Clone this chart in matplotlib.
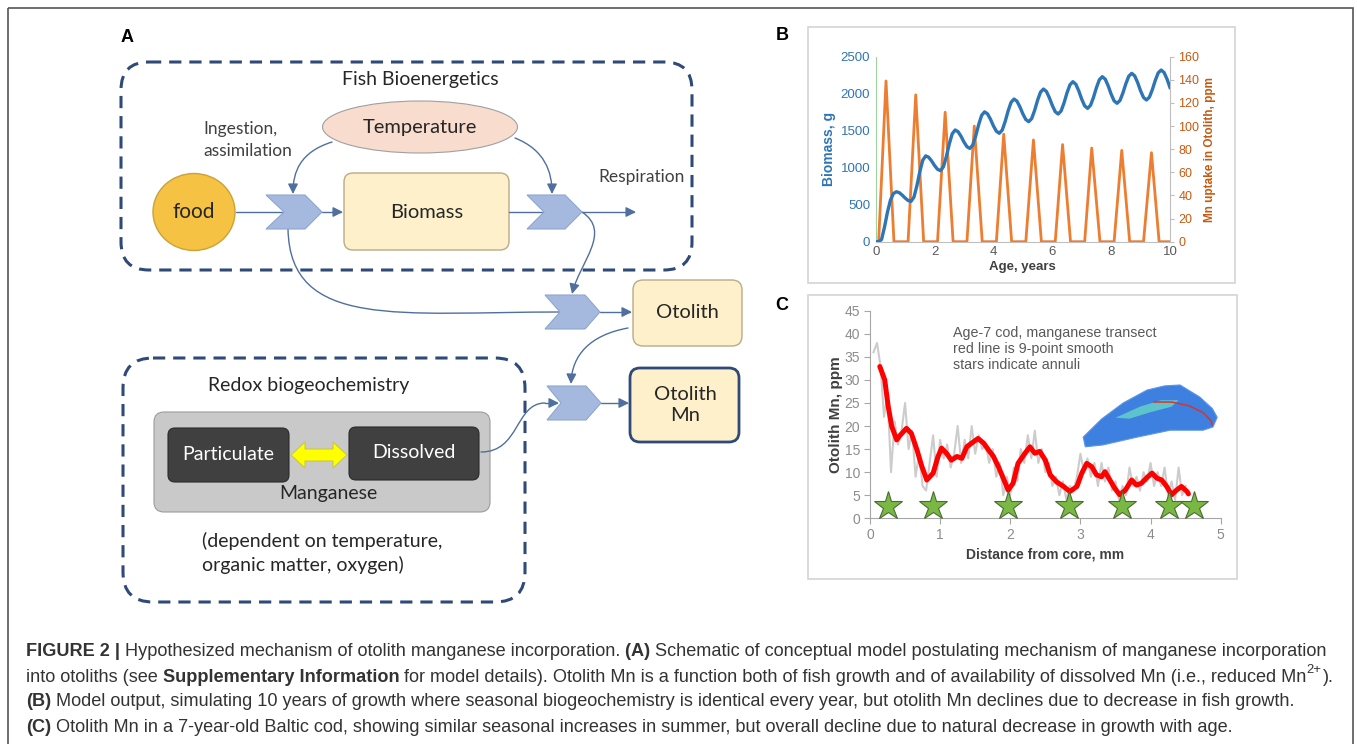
import numpy as np
import matplotlib
matplotlib.use("Agg")
import matplotlib.pyplot as plt
from matplotlib.patches import (FancyBboxPatch, Ellipse, Polygon, Rectangle,
                                FancyArrowPatch)
from matplotlib.path import Path

W, H = 1357, 744

# ---- panel B: model output ----
model_age = np.linspace(0, 10, 101)
biomass_g = [0, 0, 30, 200, 400, 560, 650, 675, 663, 630,
             590, 557, 545, 603, 757, 948, 1102, 1160, 1141, 1091,
             1029, 979, 960, 1012, 1150, 1320, 1458, 1510, 1486, 1424,
             1346, 1284, 1260, 1307, 1431, 1584, 1708, 1755, 1727, 1655,
             1565, 1493, 1465, 1509, 1625, 1768, 1884, 1928, 1899, 1822,
             1728, 1651, 1622, 1664, 1774, 1911, 2021, 2063, 2031, 1946,
             1842, 1757, 1725, 1767, 1876, 2011, 2120, 2162, 2128, 2038,
             1926, 1836, 1802, 1843, 1950, 2082, 2189, 2230, 2196, 2106,
             1994, 1904, 1870, 1908, 2010, 2135, 2237, 2275, 2241, 2151,
             2039, 1949, 1915, 1953, 2055, 2180, 2282, 2320, 2286, 2196,
             2084]
mn_age = [0.0, 0.1, 0.35, 0.62, 1.1, 1.36, 1.63, 2.1, 2.36, 2.63,
          3.1, 3.35, 3.62, 4.1, 4.35, 4.62, 5.1, 5.36, 5.63, 6.1,
          6.35, 6.62, 7.1, 7.34, 7.62, 8.1, 8.36, 8.63, 9.1, 9.37,
          9.63, 10.0]
mn_ppm = [0, 0, 139, 0, 0, 127, 0, 0, 112, 0,
          0, 100, 0, 0, 93, 0, 0, 88, 0, 0,
          84, 0, 0, 81, 0, 0, 79, 0, 0, 77,
          0, 0]

# ---- panel C: cod otolith transect ----
raw_dist = [0.05, 0.10, 0.15, 0.20, 0.25, 0.30, 0.35, 0.40, 0.45, 0.50,
            0.55, 0.60, 0.65, 0.70, 0.75, 0.80, 0.85, 0.90, 0.95, 1.00,
            1.05, 1.10, 1.15, 1.20, 1.25, 1.30, 1.35, 1.40, 1.45, 1.50,
            1.55, 1.60, 1.65, 1.70, 1.75, 1.80, 1.85, 1.90, 1.95, 2.00,
            2.05, 2.10, 2.15, 2.20, 2.25, 2.30, 2.35, 2.40, 2.45, 2.50,
            2.55, 2.60, 2.65, 2.70, 2.75, 2.80, 2.85, 2.90, 2.95, 3.00,
            3.05, 3.10, 3.15, 3.20, 3.25, 3.30, 3.35, 3.40, 3.45, 3.50,
            3.55, 3.60, 3.65, 3.70, 3.75, 3.80, 3.85, 3.90, 3.95, 4.00,
            4.05, 4.10, 4.15, 4.20, 4.25, 4.30, 4.35, 4.40, 4.45, 4.50]
raw_mn = [36, 38, 33, 22, 27, 10, 21, 16, 19, 25,
          15, 19, 9, 14, 7, 6, 12, 18, 9, 17,
          13, 16, 11, 14, 20, 12, 17, 13, 20, 14,
          18, 15, 16, 12, 15, 9, 12, 5, 9, 5,
          11, 8, 15, 12, 18, 13, 19, 12, 15, 10,
          12, 7, 9, 5, 8, 4, 7, 6, 9, 14,
          10, 13, 9, 12, 7, 12, 8, 11, 6, 8,
          4, 7, 5, 11, 7, 9, 6, 10, 8, 12,
          7, 10, 7, 11, 5, 8, 4, 11, 5, 7]
smooth_dist = [0.14, 0.21, 0.26, 0.31, 0.38, 0.43, 0.52, 0.59, 0.67, 0.74,
               0.81, 0.90, 0.97, 1.02, 1.09, 1.16, 1.24, 1.31, 1.38, 1.45,
               1.54, 1.62, 1.69, 1.76, 1.83, 1.90, 1.97, 2.04, 2.11, 2.21,
               2.28, 2.35, 2.42, 2.50, 2.57, 2.66, 2.76, 2.85, 2.95, 3.02,
               3.09, 3.16, 3.23, 3.30, 3.35, 3.42, 3.49, 3.56, 3.64, 3.73,
               3.80, 3.87, 3.94, 4.02, 4.09, 4.16, 4.23, 4.30, 4.37, 4.44,
               4.52, 4.54]
smooth_mn = [32.9, 30.0, 24.2, 19.9, 17.0, 18.0, 19.5, 18.4, 14.8, 11.2,
             8.3, 9.8, 13.4, 15.2, 14.1, 12.6, 13.4, 13.0, 15.5, 16.3,
             17.3, 16.3, 14.8, 13.4, 11.2, 8.7, 6.1, 7.6, 11.9, 14.1,
             15.5, 14.1, 14.5, 12.6, 9.4, 7.9, 6.9, 5.8, 6.9, 9.8,
             11.9, 11.2, 9.4, 9.0, 10.1, 8.3, 6.5, 5.1, 6.1, 8.3,
             7.2, 7.6, 8.7, 9.8, 8.7, 8.3, 6.9, 5.1, 6.1, 6.9,
             5.8, 5.3]
annuli_dist = [0.26, 0.90, 1.97, 2.84, 3.59, 4.26, 4.62]
annuli_mn = [2.7, 2.7, 2.7, 2.7, 2.7, 2.7, 2.7]

fig = plt.figure(figsize=(W / 100, H / 100), dpi=100)
ax0 = fig.add_axes([0, 0, 1, 1])
ax0.set_xlim(0, W)
ax0.set_ylim(H, 0)
ax0.axis('off')

ax0.add_patch(Rectangle((8, 8), 1345, 760, fill=False, ec='#555555', lw=1.2))

ui = ['Lato', 'DejaVu Sans']
txt_col = '#262626'
arrow_col = '#4f6f9f'
dash_col = '#2f4a78'


def pix_axes(x0, y0, x1, y1):
    return fig.add_axes([x0 / W, 1 - y1 / H, (x1 - x0) / W, (y1 - y0) / H])


def chevron(x0, xn, xs, x1, y0, y1):
    ym = (y0 + y1) / 2
    pts = [(x0, y0), (xs, y0), (x1, ym), (xs, y1), (x0, y1), (xn, ym)]
    ax0.add_patch(Polygon(pts, closed=True, fc='#a4b9dd', ec='#8ea6cf',
                          lw=0.8, zorder=4))


def arrow(verts, codes=None, head=True, lw=1.0):
    p = Path(verts, codes)
    style = '-|>,head_length=0.6,head_width=0.3' if head else '-'
    ax0.add_patch(FancyArrowPatch(path=p, arrowstyle=style, mutation_scale=10,
                                  color=arrow_col, lw=lw, zorder=3))


def rbox(x0, y0, x1, y1, fc, ec, lw=1.0, r=8, ls='-', z=2):
    ax0.add_patch(FancyBboxPatch((x0, y0), x1 - x0, y1 - y0,
                                 boxstyle=f'round,pad=0,rounding_size={r}',
                                 fc=fc, ec=ec, lw=lw, ls=ls, zorder=z))


# ---------------- panel A ----------------
ax0.text(127, 37, 'A', fontsize=13, fontweight='bold', family='Liberation Sans',
         ha='center', va='center')

rbox(121, 62, 692, 270, 'none', dash_col, lw=2.2, r=28, ls=(0, (4, 2.6)), z=1)
ax0.text(420, 80, 'Fish Bioenergetics', fontsize=14, family=ui, color=txt_col,
         ha='center', va='center')
ax0.add_patch(Ellipse((420, 127), 195, 52, fc='#f8dccd', ec='#a0a0a0', lw=0.8,
                      zorder=2))
ax0.text(420, 127, 'Temperature', fontsize=14.5, family=ui, color=txt_col,
         ha='center', va='center', zorder=5)
ax0.text(203, 140, 'Ingestion,\nassimilation', fontsize=12.5, family=ui,
         color='#404040', ha='left', va='center', linespacing=1.4)
ax0.add_patch(Ellipse((194, 212), 82, 77, fc='#f5c243', ec='#c9a23a', lw=1,
                      zorder=2))
ax0.text(194, 212, 'food', fontsize=15, family=ui, color=txt_col,
         ha='center', va='center', zorder=5)
rbox(344, 173, 509, 250, '#fdf0cb', '#b9ab86', lw=1.0, r=9)
ax0.text(427, 212, 'Biomass', fontsize=14.5, family=ui, color=txt_col,
         ha='center', va='center', zorder=5)
ax0.text(642, 177, 'Respiration', fontsize=12.5, family=ui, color='#404040',
         ha='center', va='center')

chevron(266, 284, 305, 322, 195, 229)
chevron(527, 544, 565, 582, 195, 229)
chevron(545, 560, 585, 600, 295, 329)
chevron(547, 561, 586, 601, 386, 420)

arrow([(236, 212), (283, 212)], head=False)
arrow([(322, 212), (343, 212)])
arrow([(509, 212), (543, 212)], head=False)
arrow([(582, 212), (636, 212)])
C4 = [Path.MOVETO, Path.CURVE4, Path.CURVE4, Path.CURVE4]
arrow([(332, 142), (300, 152), (293, 172), (293, 194)], C4)
arrow([(515, 138), (545, 150), (552, 172), (552, 194)], C4)
arrow([(582, 212), (612, 232), (580, 262), (572, 294)], C4)
arrow([(288, 229), (290, 330), (400, 312), (560, 312)], C4, head=False)
arrow([(600, 312), (632, 312)])

rbox(633, 280, 742, 346, '#fdf0cb', '#b9ab86', lw=1.0, r=10)
ax0.text(687, 313, 'Otolith', fontsize=14.5, family=ui, color=txt_col,
         ha='center', va='center', zorder=5)
rbox(630, 368, 739, 442, '#fdf0cb', '#2f4a78', lw=2.0, r=10)
ax0.text(685, 405, 'Otolith\nMn', fontsize=14.5, family=ui, color=txt_col,
         ha='center', va='center', linespacing=1.35, zorder=5)
arrow([(628, 328), (590, 335), (572, 355), (571, 384)], C4)
arrow([(601, 403), (629, 403)])

rbox(123, 358, 525, 602, 'none', dash_col, lw=2.2, r=30, ls=(0, (4, 2.6)), z=1)
ax0.text(309, 386, 'Redox biogeochemistry', fontsize=14, family=ui,
         color=txt_col, ha='center', va='center')
rbox(154, 412, 490, 512, '#c9c9c9', '#9c9c9c', lw=0.8, r=10)
rbox(168, 428, 289, 482, '#404040', '#2a2a2a', lw=0.8, r=7, z=3)
rbox(349, 427, 479, 480, '#404040', '#2a2a2a', lw=0.8, r=7, z=3)
ax0.text(228, 455, 'Particulate', fontsize=14, family=ui, color='white',
         ha='center', va='center', zorder=5)
ax0.text(414, 453, 'Dissolved', fontsize=14, family=ui, color='white',
         ha='center', va='center', zorder=5)
dbl = [(291, 455), (305, 442), (305, 449), (333, 449), (333, 442), (347, 455),
       (333, 468), (333, 461), (305, 461), (305, 468)]
ax0.add_patch(Polygon(dbl, closed=True, fc='#ffff00', ec='#c8c84a', lw=0.8,
                      zorder=4))
ax0.text(328, 493, 'Manganese', fontsize=14, family=ui, color=txt_col,
         ha='center', va='center', zorder=5)
ax0.text(202, 553, '(dependent on temperature,\norganic matter, oxygen)',
         fontsize=14, family=ui, color=txt_col, ha='left', va='center',
         linespacing=1.45)
arrow([(481, 452), (520, 452), (515, 403), (545, 403)], C4, head=False)
arrow([(545, 403), (559, 403)])

# ---------------- panel B ----------------
ax0.add_patch(Rectangle((808, 27), 427, 256, fill=False, ec='#d4d4d4', lw=1.2))
ax0.text(782, 36, 'B', fontsize=13, fontweight='bold', family='Liberation Sans',
         ha='center', va='center')
blue = '#2e75b6'
orange = '#ed7d31'
axb = pix_axes(875.7, 56.7, 1170, 241.7)
axb.set_facecolor('none')
axb.plot(model_age, biomass_g, color=blue, lw=2.4, zorder=3)
axb.set_xlim(0, 10)
axb.set_ylim(0, 2500)
axb.set_xticks([0, 2, 4, 6, 8, 10])
axb.set_yticks([0, 500, 1000, 1500, 2000, 2500])
axb.tick_params(axis='y', colors=blue, labelsize=9.5, length=0, pad=4)
axb.tick_params(axis='x', colors='#595959', labelsize=9.5, length=0, pad=3)
for lab in axb.get_yticklabels():
    lab.set_family('Liberation Sans')
for lab in axb.get_xticklabels():
    lab.set_family('Liberation Sans')
axb.spines['top'].set_visible(False)
axb.spines['right'].set_visible(False)
axb.spines['left'].set_color('#9fd39f')
axb.spines['bottom'].set_color('#bfbfbf')
axb.set_ylabel('Biomass, g', color=blue, fontsize=10, fontweight='bold',
               family='Liberation Sans', labelpad=3)
axb.set_xlabel('Age, years', color='#404040', fontsize=9.5, fontweight='bold',
               family='Liberation Sans', labelpad=2)
axb2 = axb.twinx()
axb2.plot(mn_age, mn_ppm, color=orange, lw=2.0, zorder=2)
axb2.set_ylim(0, 160)
axb2.set_yticks(range(0, 161, 20))
axb2.tick_params(axis='y', colors='#c55a11', labelsize=9, length=3,
                 width=0.8, pad=3)
for lab in axb2.get_yticklabels():
    lab.set_family('Liberation Sans')
axb2.tick_params(axis='y', color='#bfbfbf')
for s in ['top', 'left', 'bottom']:
    axb2.spines[s].set_visible(False)
axb2.spines['right'].set_color('#bfbfbf')
axb2.set_ylabel('Mn uptake in Otolith, ppm', color='#c55a11', fontsize=8.5,
                fontweight='bold', family='Liberation Sans', rotation=90,
                labelpad=3)
axb.set_zorder(axb2.get_zorder() + 1)

# ---------------- panel C ----------------
ax0.add_patch(Rectangle((808, 295), 429, 284, fill=False, ec='#d4d4d4', lw=1.2))
ax0.text(782, 306, 'C', fontsize=13, fontweight='bold', family='Liberation Sans',
         ha='center', va='center')
axc = pix_axes(870, 310.7, 1220.7, 518.3)
axc.set_facecolor('none')
axc.plot(raw_dist, raw_mn, color='#cccccc', lw=1.5, zorder=2)
axc.plot(smooth_dist, smooth_mn, color='#ff0000', lw=3.6, zorder=3,
         solid_capstyle='round', solid_joinstyle='round')
axc.plot(annuli_dist, annuli_mn, ls='none', marker='*', ms=21,
         mfc='#78b843', mec='#4d6b35', mew=0.8, zorder=4, clip_on=False)
axc.set_xlim(0, 5)
axc.set_ylim(0, 45)
axc.set_xticks(range(0, 6))
axc.set_yticks(range(0, 46, 5))
axc.tick_params(colors='#8c8c8c', labelsize=10, length=4, width=0.8, pad=3)
for lab in axc.get_xticklabels() + axc.get_yticklabels():
    lab.set_family('Liberation Sans')
axc.tick_params(color='#a6a6a6')
axc.spines['top'].set_visible(False)
axc.spines['right'].set_visible(False)
axc.spines['left'].set_color('#a6a6a6')
axc.spines['bottom'].set_color('#a6a6a6')
axc.set_ylabel('Otolith Mn, ppm', color='#404040', fontsize=11,
               fontweight='bold', family='Liberation Sans', labelpad=1)
axc.set_xlabel('Distance from core, mm', color='#404040', fontsize=10,
               fontweight='bold', family='Liberation Sans', labelpad=4)
axc.text(1.19, 41.6, 'Age-7 cod, manganese transect\nred line is 9-point smooth\n'
         'stars indicate annuli', fontsize=10.3, color='#595959',
         family='Liberation Sans', va='top', ha='left', linespacing=1.15)

# otolith sketch (inset picture)
oto = [(3.04, 17.6), (3.30, 21.5), (3.61, 25.0), (3.95, 27.8), (4.20, 28.7),
       (4.42, 28.9), (4.70, 26.3), (4.88, 23.8), (4.95, 21.9), (4.89, 19.8),
       (4.75, 19.1), (4.28, 19.1), (3.81, 17.6), (3.32, 15.9), (3.07, 15.5)]
axc.add_patch(Polygon(oto, closed=True, fc='#3d80e0', ec='#5a95e8', lw=0.8,
                      zorder=5))
band = [(3.50, 21.8), (3.85, 24.2), (4.15, 25.6), (4.40, 25.6), (4.30, 24.2),
        (4.00, 23.0), (3.70, 21.6)]
axc.add_patch(Polygon(band, closed=True, fc='#66d6c8', ec='none', alpha=0.8,
                      zorder=6))
axc.plot([4.05, 4.30, 4.55, 4.75, 4.86, 4.88], [25.2, 25.2, 24.4, 22.9, 21.2,
         20.2], color='#d8342c', lw=1.1, zorder=7)

# ---------------- caption ----------------
cap_col = '#333333'
# runs: (text, style) with style 'b' bold, 'r' regular, 's' superscript
cap_lines = [
    [('FIGURE 2 |', 'b'), (' Hypothesized mechanism of otolith manganese '
                           'incorporation.', 'r'), (' (A)', 'b'),
     (' Schematic of conceptual model postulating mechanism of manganese '
      'incorporation', 'r')],
    [('into otoliths (see', 'r'), (' Supplementary Information', 'b'),
     (' for model details). Otolith Mn is a function both of fish growth and '
      'of availability of dissolved Mn (i.e., reduced Mn', 'r'), ('2+', 's'),
     (').', 'r')],
    [('(B)', 'b'), (' Model output, simulating 10 years of growth where '
                    'seasonal biogeochemistry is identical every year, but '
                    'otolith Mn declines due to decrease in fish growth.', 'r')],
    [('(C)', 'b'), (' Otolith Mn in a 7-year-old Baltic cod, showing similar '
                    'seasonal increases in summer, but overall decline due to '
                    'natural decrease in growth with age.', 'r')],
]
cap_y = [652, 677, 702, 727]
renderer = fig.canvas.get_renderer()


def draw_runs(y, runs, size):
    x = 26
    objs = []
    for s, style in runs:
        fs = size * 0.72 if style == 's' else size
        yy = y - size * 0.5 if style == 's' else y
        t = ax0.text(x, yy, s, fontsize=fs,
                     fontweight='bold' if style == 'b' else 'normal',
                     family='Liberation Sans', color=cap_col, ha='left',
                     va='center')
        x += t.get_window_extent(renderer=renderer).width + (1 if style == 's' else 0)
        objs.append(t)
    return x, objs


widest = 0
for runs in cap_lines[:2]:
    end, tmp = draw_runs(cap_y[0], runs, 11)
    widest = max(widest, end - 26)
    for t in tmp:
        t.remove()
size = 11 * (1334 - 26) / widest
for y, runs in zip(cap_y, cap_lines):
    draw_runs(y, runs, size)

fig.savefig('out.png', dpi=100)
